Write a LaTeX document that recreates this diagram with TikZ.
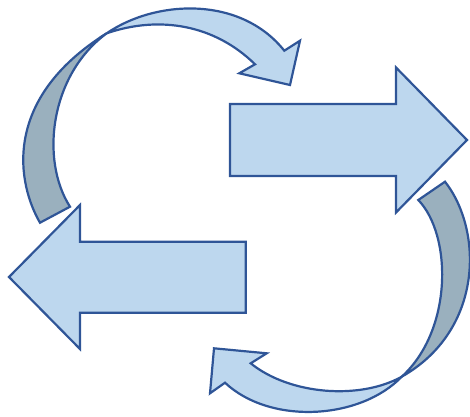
\documentclass[tikz,border=0pt]{standalone}
\definecolor{lightfill}{HTML}{BDD7EE}
\definecolor{darkfill}{HTML}{9AB0BE}
\definecolor{edge}{HTML}{2F5597}
\tikzset{
  lightpart/.style={fill=lightfill, draw=edge, line width=2.2pt, line join=miter},
  darkpart/.style={fill=darkfill, draw=edge, line width=2.2pt, line join=miter}
}
\begin{document}
\begin{tikzpicture}[x=1pt,y=-1pt]
\useasboundingbox (0,0) rectangle (470,416);
% right block arrow
\path[lightpart] (230,104) -- (396,104) -- (396,67.5) -- (467,140) -- (396,212.5) -- (396,176) -- (230,176) -- cycle;
% left block arrow
\path[lightpart] (245.7,241.7) -- (80,241.7) -- (80,205) -- (9,277) -- (80,349) -- (80,312.7) -- (245.7,312.7) -- cycle;
% top-left curved arrow: back (dark) part
\path[darkpart] (40,222.7) .. controls (18,185) and (0,100) .. (106.7,33.3)
  .. controls (50,75) and (40,160) .. (70,206.7) -- cycle;
% top-left curved arrow: front (light) part
\path[lightpart] (106.7,33.3) .. controls (155,0) and (240,-5) .. (284.3,50.7)
  -- (300,40.7) -- (290,85) -- (239.3,73.3) -- (255,64.3)
  .. controls (215,25) and (160,15) .. (106.7,33.3) -- cycle;
% bottom-right curved arrow: back (dark) part
\path[darkpart] (445,181.7) .. controls (483,230) and (484,330) .. (401.7,376.7)
  .. controls (453,330) and (452,235) .. (418.3,200) -- cycle;
% bottom-right curved arrow: front (light) part
\path[lightpart] (401.7,376.7) .. controls (360,420) and (270,425) .. (225,382.7)
  -- (210,393.3) -- (214,348.3) -- (266.7,353.3) -- (250.7,363.3)
  .. controls (290,395) and (360,400) .. (401.7,376.7) -- cycle;
\end{tikzpicture}
\end{document}
